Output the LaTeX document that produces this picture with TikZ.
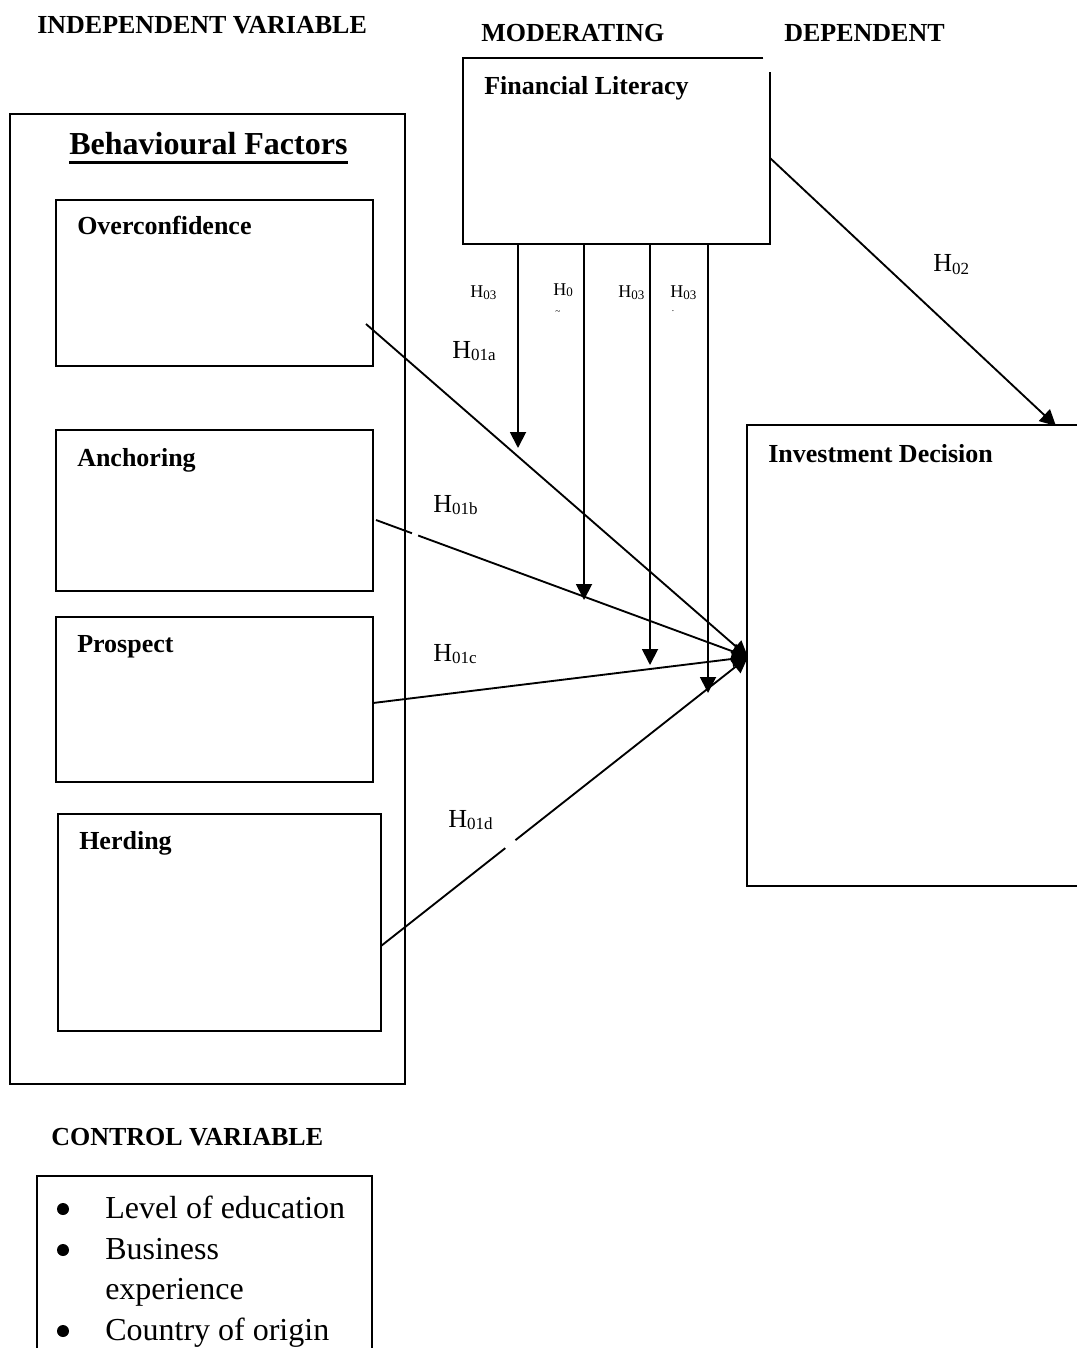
\documentclass[tikz,border=0pt]{standalone}
\usepackage{fontspec}
\setmainfont{Liberation Serif}
\usetikzlibrary{arrows.meta,fit,calc}
\newcommand\hsub[1]{\raisebox{-2pt}{\fontsize{12.75}{14}\selectfont #1}}
\newcommand\hsubs[1]{\raisebox{-1.5pt}{\fontsize{9.75}{11}\selectfont #1}}
\begin{document}
\begin{tikzpicture}[x=0.75pt,y=-0.75pt,
  box/.style={draw, line width=1.5pt, inner sep=0pt},
  lbl/.style={inner sep=0pt, anchor=base west, font=\fontsize{19.5}{22}\selectfont\bfseries},
  arr/.style={line width=1.4pt, -{Triangle[length=12pt,width=12pt]}},
  hyp/.style={inner sep=0pt, anchor=base west, font=\fontsize{19.5}{22}\selectfont},
  hsmall/.style={inner sep=0pt, anchor=base west, font=\fontsize{13.5}{15}\selectfont},
  item/.style={inner sep=0pt, anchor=base west, font=\fontsize{24}{28}\selectfont},
  bul/.style={circle, fill, inner sep=0pt, minimum size=9pt},
  gap/.style={white, line width=3.5pt}]
\useasboundingbox (0,0) rectangle (1076,1348);

% headings
\node[lbl] (tind) at (37,34) {INDEPENDENT VARIABLE};
\node[lbl] (tmod) at (481,42) {MODERATING};
\node[lbl] (tdep) at (784,42) {DEPENDENT};

% boxes
\node[box, fit={(10,114) (405,1084)}] (bf) {};
\node[box, fit={(56,200) (373,366)}] (oc) {};
\node[box, fit={(56,430) (373,591)}] (an) {};
\node[box, fit={(56,617) (373,782)}] (pr) {};
\node[box, fit={(58,814) (381,1031)}] (he) {};
\node[box, fit={(747,425) (1090,886)}] (id) {};
\node[box, fit={(37,1176) (372,1370)}] (cv) {};
\node[inner sep=0pt, fit={(463,58) (770,244)}] (fl) {};
\draw[line width=1.5pt] ($(fl.north east)+(-7,0)$) -- (fl.north west) -- (fl.south west) -- (fl.south east) -- ($(fl.north east)+(0,14)$);

% box titles
\node[lbl] (tfl) at (484,95) {Financial Literacy};
\node[lbl, font=\fontsize{24}{28}\selectfont\bfseries] (tbf) at (69,155) {Behavioural Factors};
\draw[line width=2pt] ([yshift=-5.5pt]tbf.base west) -- ([yshift=-5.5pt]tbf.base east);
\node[lbl] (toc) at (77,235) {Overconfidence};
\node[lbl] (tan) at (77,466) {Anchoring};
\node[lbl] (tpr) at (77,652) {Prospect};
\node[lbl] (the) at (79,849) {Herding};
\node[lbl] (tid) at (768,462) {Investment Decision};

% moderating arrows
\coordinate (m1s) at (518,244); \coordinate (m1e) at (518,448);
\coordinate (m2s) at (584,244); \coordinate (m2e) at (584,600);
\coordinate (m3s) at (650,244); \coordinate (m3e) at (650,665);
\coordinate (m4s) at (708,244); \coordinate (m4e) at (708,693);
\draw[arr] (m1s) -- (m1e);
\draw[arr] (m2s) -- (m2e);
\draw[arr] (m3s) -- (m3e);
\draw[arr] (m4s) -- (m4e);

% independent arrows
\coordinate (conv) at (748,657);
\coordinate (ocA) at (366,324);
\coordinate (anA) at (376,520);
\coordinate (prA) at (373,703);
\coordinate (heA) at (381,946);
\draw[arr] (ocA) -- (conv);
\draw[arr] (anA) -- (conv);
\draw[arr] (prA) -- (conv);
\draw[arr] (heA) -- (conv);
\draw[gap] ($(anA)!0.097!(conv)$) -- ($(anA)!0.113!(conv)$);
\draw[gap] ($(heA)!0.339!(conv)$) -- ($(heA)!0.366!(conv)$);

% H02
\coordinate (h2s) at (770,158);
\coordinate (h2e) at (1056,426);
\draw[arr] (h2s) -- (h2e);

% hypothesis labels
\node[hyp] (l1a) at (452,358) {H\hsub{01a}};
\node[hyp] (l1b) at (433,512) {H\hsub{01b}};
\node[hyp] (l1c) at (433,661) {H\hsub{01c}};
\node[hyp] (l1d) at (448,827) {H\hsub{01d}};
\node[hyp] (l2) at (933,272) {H\hsub{02}};
\node[hsmall] (l3a) at (470,297) {H\hsubs{03}};
\node[hsmall] (l3b) at (553,295) {H\hsubs{0}};
\node[hsmall] (l3c) at (618,297) {H\hsubs{03}};
\node[hsmall] (l3d) at (670,297) {H\hsubs{03}};
\node[inner sep=0pt, font=\fontsize{7}{7}\selectfont] (mk1) at (558,313) {\textasciitilde};
\node[inner sep=0pt, font=\fontsize{7}{7}\selectfont] (mk2) at (673,311) {.};

% control variable
\node[lbl] (tcv) at (51,1145) {CONTROL VARIABLE};
\node[bul] (b1) at (63,1209) {};
\node[bul] (b2) at (63,1250) {};
\node[bul] (b3) at (63,1331) {};
\node[item] (i1) at (105,1218) {Level of education};
\node[item] (i2) at (105,1259) {Business};
\node[item] (i3) at (105,1299) {experience};
\node[item] (i4) at (105,1340) {Country of origin};
\end{tikzpicture}
\end{document}
